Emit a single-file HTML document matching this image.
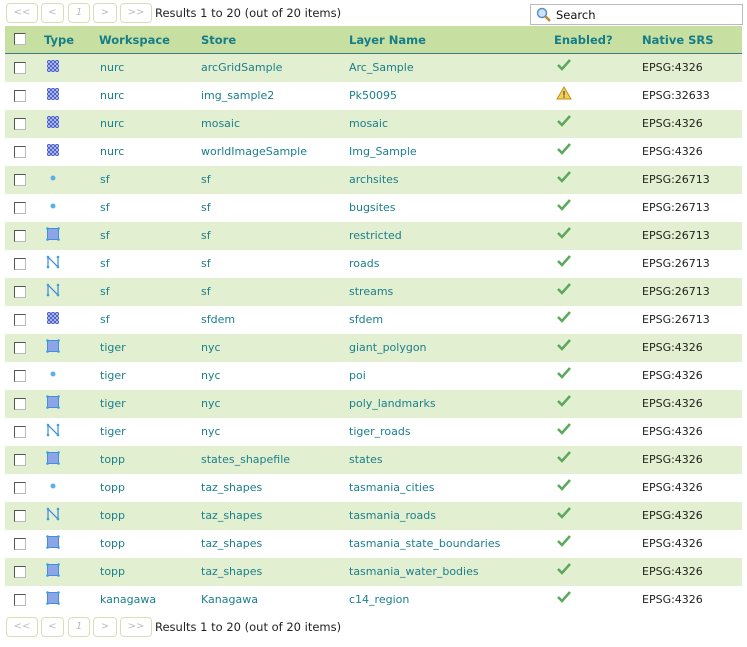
<!DOCTYPE html>
<html><head><meta charset="utf-8"><style>
body{margin:0;width:747px;height:647px;background:#fff;font-family:"DejaVu Sans",Verdana,sans-serif;font-size:11px;position:relative;overflow:hidden}
.pager{position:absolute;left:0;width:400px;height:20px}
.pb{position:absolute;top:0;height:18px;border:1px solid #d6e0b8;border-radius:4px;color:#bbb;font-size:10px;line-height:18px;text-align:center;font-style:italic}
.res{position:absolute;left:155px;top:3px;color:#222;white-space:nowrap;font-size:11.5px}
.search{position:absolute;left:530px;top:4px;width:211px;height:19px;border:1px solid #bbb;background:#fff}
.search span{position:absolute;left:25px;top:3px;color:#111;font-size:11.5px}
.hdr{position:absolute;left:5px;top:26px;width:737px;height:27px;background:#c7e0a2;border-bottom:2px solid #3b7c86}
.hdr b{position:absolute;top:7px;color:#167c86;font-size:11.5px;white-space:nowrap}
.row{position:absolute;left:5px;width:737px;height:28px}
.row.o{background:#e2efd0}
.row span{position:absolute;top:7px;color:#1a7f8c;white-space:nowrap}
.row .srs{color:#222;left:637px}
.cb{position:absolute;left:9px;top:8px;width:10px;height:10px;border:1px solid #555;border-right-color:#bbb;border-bottom-color:#bbb;background:#fff}
.hdr .cb{top:7px}
.ic{position:absolute;left:41px;top:5px}
.ok{position:absolute;left:551px;top:4px}
</style></head><body>
<svg width="0" height="0" style="position:absolute"><defs>
<pattern id="ck" width="4" height="4" patternUnits="userSpaceOnUse"><rect width="4" height="4" fill="#4f62c8"/><rect width="2" height="2" fill="#aab6ee"/><rect x="2" y="2" width="2" height="2" fill="#aab6ee"/></pattern>
<symbol id="r" viewBox="0 0 14 14"><rect x="1" y="1" width="12" height="12" fill="url(#ck)"/></symbol>
<symbol id="pt" viewBox="0 0 14 14"><circle cx="7" cy="7" r="2.5" fill="#5ab0e6"/></symbol>
<symbol id="pg" viewBox="0 0 14 14"><rect x="1.5" y="1.5" width="11" height="11" fill="#8aa6e6" stroke="#4a8ad8"/><circle cx="1.5" cy="1.5" r="1.3" fill="#3aa0e0"/><circle cx="12.5" cy="1.5" r="1.3" fill="#3aa0e0"/><circle cx="1.5" cy="12.5" r="1.3" fill="#3aa0e0"/><circle cx="12.5" cy="12.5" r="1.3" fill="#3aa0e0"/></symbol>
<symbol id="ln" viewBox="0 0 14 14"><polyline points="2,12 2,2 12,12 12,2" fill="none" stroke="#3a8ad8" stroke-width="1.2"/><circle cx="2" cy="12" r="1.3" fill="#3aa0e0"/><circle cx="2" cy="2" r="1.3" fill="#3aa0e0"/><circle cx="12" cy="12" r="1.3" fill="#3aa0e0"/><circle cx="12" cy="2" r="1.3" fill="#3aa0e0"/></symbol>
<symbol id="ck2" viewBox="0 0 16 14"><path d="M2,7 L6,11 L14,2" fill="none" stroke="#5aaa5a" stroke-width="2.5"/></symbol>
<symbol id="wr" viewBox="0 0 16 14"><path d="M8,1 L15,13 L1,13 Z" fill="#f5d050" stroke="#c09020"/><rect x="7.3" y="5" width="1.4" height="4.5" fill="#555"/><rect x="7.3" y="10.3" width="1.4" height="1.4" fill="#555"/></symbol>
</defs></svg>

<div class="pager" style="top:3px">
<div class="pb" style="left:6px;width:30px">&lt;&lt;</div><div class="pb" style="left:41px;width:21px">&lt;</div><div class="pb" style="left:68px;width:20px">1</div><div class="pb" style="left:93px;width:22px">&gt;</div><div class="pb" style="left:120px;width:30px">&gt;&gt;</div>
<div class="res">Results 1 to 20 (out of 20 items)</div></div>
<div class="search"><svg style="position:absolute;left:5px;top:2px" width="16" height="15"><circle cx="6" cy="6" r="4.5" fill="#cde4f8" stroke="#5b8fc8" stroke-width="1.5"/><line x1="9.5" y1="9.5" x2="14" y2="14" stroke="#c08a30" stroke-width="2.5"/></svg><span>Search</span></div>

<div class="hdr"><div class="cb"></div><b style="left:39px">Type</b><b style="left:94px">Workspace</b><b style="left:196px">Store</b><b style="left:344px">Layer Name</b><b style="left:549px">Enabled?</b><b style="left:637px">Native SRS</b></div>

<div class="row o" style="top:54px"><div class="cb"></div><svg class="ic" width="14" height="14"><use href="#r"/></svg><span style="left:95px">nurc</span><span style="left:196px">arcGridSample</span><span style="left:344px">Arc_Sample</span><svg class="ok" width="16" height="14"><use href="#ck2"/></svg><span class="srs">EPSG:4326</span></div>
<div class="row" style="top:82px"><div class="cb"></div><svg class="ic" width="14" height="14"><use href="#r"/></svg><span style="left:95px">nurc</span><span style="left:196px">img_sample2</span><span style="left:344px">Pk50095</span><svg class="ok" width="16" height="14"><use href="#wr"/></svg><span class="srs">EPSG:32633</span></div>
<div class="row o" style="top:110px"><div class="cb"></div><svg class="ic" width="14" height="14"><use href="#r"/></svg><span style="left:95px">nurc</span><span style="left:196px">mosaic</span><span style="left:344px">mosaic</span><svg class="ok" width="16" height="14"><use href="#ck2"/></svg><span class="srs">EPSG:4326</span></div>
<div class="row" style="top:138px"><div class="cb"></div><svg class="ic" width="14" height="14"><use href="#r"/></svg><span style="left:95px">nurc</span><span style="left:196px">worldImageSample</span><span style="left:344px">Img_Sample</span><svg class="ok" width="16" height="14"><use href="#ck2"/></svg><span class="srs">EPSG:4326</span></div>
<div class="row o" style="top:166px"><div class="cb"></div><svg class="ic" width="14" height="14"><use href="#pt"/></svg><span style="left:95px">sf</span><span style="left:196px">sf</span><span style="left:344px">archsites</span><svg class="ok" width="16" height="14"><use href="#ck2"/></svg><span class="srs">EPSG:26713</span></div>
<div class="row" style="top:194px"><div class="cb"></div><svg class="ic" width="14" height="14"><use href="#pt"/></svg><span style="left:95px">sf</span><span style="left:196px">sf</span><span style="left:344px">bugsites</span><svg class="ok" width="16" height="14"><use href="#ck2"/></svg><span class="srs">EPSG:26713</span></div>
<div class="row o" style="top:222px"><div class="cb"></div><svg class="ic" width="14" height="14"><use href="#pg"/></svg><span style="left:95px">sf</span><span style="left:196px">sf</span><span style="left:344px">restricted</span><svg class="ok" width="16" height="14"><use href="#ck2"/></svg><span class="srs">EPSG:26713</span></div>
<div class="row" style="top:250px"><div class="cb"></div><svg class="ic" width="14" height="14"><use href="#ln"/></svg><span style="left:95px">sf</span><span style="left:196px">sf</span><span style="left:344px">roads</span><svg class="ok" width="16" height="14"><use href="#ck2"/></svg><span class="srs">EPSG:26713</span></div>
<div class="row o" style="top:278px"><div class="cb"></div><svg class="ic" width="14" height="14"><use href="#ln"/></svg><span style="left:95px">sf</span><span style="left:196px">sf</span><span style="left:344px">streams</span><svg class="ok" width="16" height="14"><use href="#ck2"/></svg><span class="srs">EPSG:26713</span></div>
<div class="row" style="top:306px"><div class="cb"></div><svg class="ic" width="14" height="14"><use href="#r"/></svg><span style="left:95px">sf</span><span style="left:196px">sfdem</span><span style="left:344px">sfdem</span><svg class="ok" width="16" height="14"><use href="#ck2"/></svg><span class="srs">EPSG:26713</span></div>
<div class="row o" style="top:334px"><div class="cb"></div><svg class="ic" width="14" height="14"><use href="#pg"/></svg><span style="left:95px">tiger</span><span style="left:196px">nyc</span><span style="left:344px">giant_polygon</span><svg class="ok" width="16" height="14"><use href="#ck2"/></svg><span class="srs">EPSG:4326</span></div>
<div class="row" style="top:362px"><div class="cb"></div><svg class="ic" width="14" height="14"><use href="#pt"/></svg><span style="left:95px">tiger</span><span style="left:196px">nyc</span><span style="left:344px">poi</span><svg class="ok" width="16" height="14"><use href="#ck2"/></svg><span class="srs">EPSG:4326</span></div>
<div class="row o" style="top:390px"><div class="cb"></div><svg class="ic" width="14" height="14"><use href="#pg"/></svg><span style="left:95px">tiger</span><span style="left:196px">nyc</span><span style="left:344px">poly_landmarks</span><svg class="ok" width="16" height="14"><use href="#ck2"/></svg><span class="srs">EPSG:4326</span></div>
<div class="row" style="top:418px"><div class="cb"></div><svg class="ic" width="14" height="14"><use href="#ln"/></svg><span style="left:95px">tiger</span><span style="left:196px">nyc</span><span style="left:344px">tiger_roads</span><svg class="ok" width="16" height="14"><use href="#ck2"/></svg><span class="srs">EPSG:4326</span></div>
<div class="row o" style="top:446px"><div class="cb"></div><svg class="ic" width="14" height="14"><use href="#pg"/></svg><span style="left:95px">topp</span><span style="left:196px">states_shapefile</span><span style="left:344px">states</span><svg class="ok" width="16" height="14"><use href="#ck2"/></svg><span class="srs">EPSG:4326</span></div>
<div class="row" style="top:474px"><div class="cb"></div><svg class="ic" width="14" height="14"><use href="#pt"/></svg><span style="left:95px">topp</span><span style="left:196px">taz_shapes</span><span style="left:344px">tasmania_cities</span><svg class="ok" width="16" height="14"><use href="#ck2"/></svg><span class="srs">EPSG:4326</span></div>
<div class="row o" style="top:502px"><div class="cb"></div><svg class="ic" width="14" height="14"><use href="#ln"/></svg><span style="left:95px">topp</span><span style="left:196px">taz_shapes</span><span style="left:344px">tasmania_roads</span><svg class="ok" width="16" height="14"><use href="#ck2"/></svg><span class="srs">EPSG:4326</span></div>
<div class="row" style="top:530px"><div class="cb"></div><svg class="ic" width="14" height="14"><use href="#pg"/></svg><span style="left:95px">topp</span><span style="left:196px">taz_shapes</span><span style="left:344px">tasmania_state_boundaries</span><svg class="ok" width="16" height="14"><use href="#ck2"/></svg><span class="srs">EPSG:4326</span></div>
<div class="row o" style="top:558px"><div class="cb"></div><svg class="ic" width="14" height="14"><use href="#pg"/></svg><span style="left:95px">topp</span><span style="left:196px">taz_shapes</span><span style="left:344px">tasmania_water_bodies</span><svg class="ok" width="16" height="14"><use href="#ck2"/></svg><span class="srs">EPSG:4326</span></div>
<div class="row" style="top:586px"><div class="cb"></div><svg class="ic" width="14" height="14"><use href="#pg"/></svg><span style="left:95px">kanagawa</span><span style="left:196px">Kanagawa</span><span style="left:344px">c14_region</span><svg class="ok" width="16" height="14"><use href="#ck2"/></svg><span class="srs">EPSG:4326</span></div>

<div class="pager" style="top:617px">
<div class="pb" style="left:6px;width:30px">&lt;&lt;</div><div class="pb" style="left:41px;width:21px">&lt;</div><div class="pb" style="left:68px;width:20px">1</div><div class="pb" style="left:93px;width:22px">&gt;</div><div class="pb" style="left:120px;width:30px">&gt;&gt;</div>
<div class="res">Results 1 to 20 (out of 20 items)</div></div>
</body></html>
